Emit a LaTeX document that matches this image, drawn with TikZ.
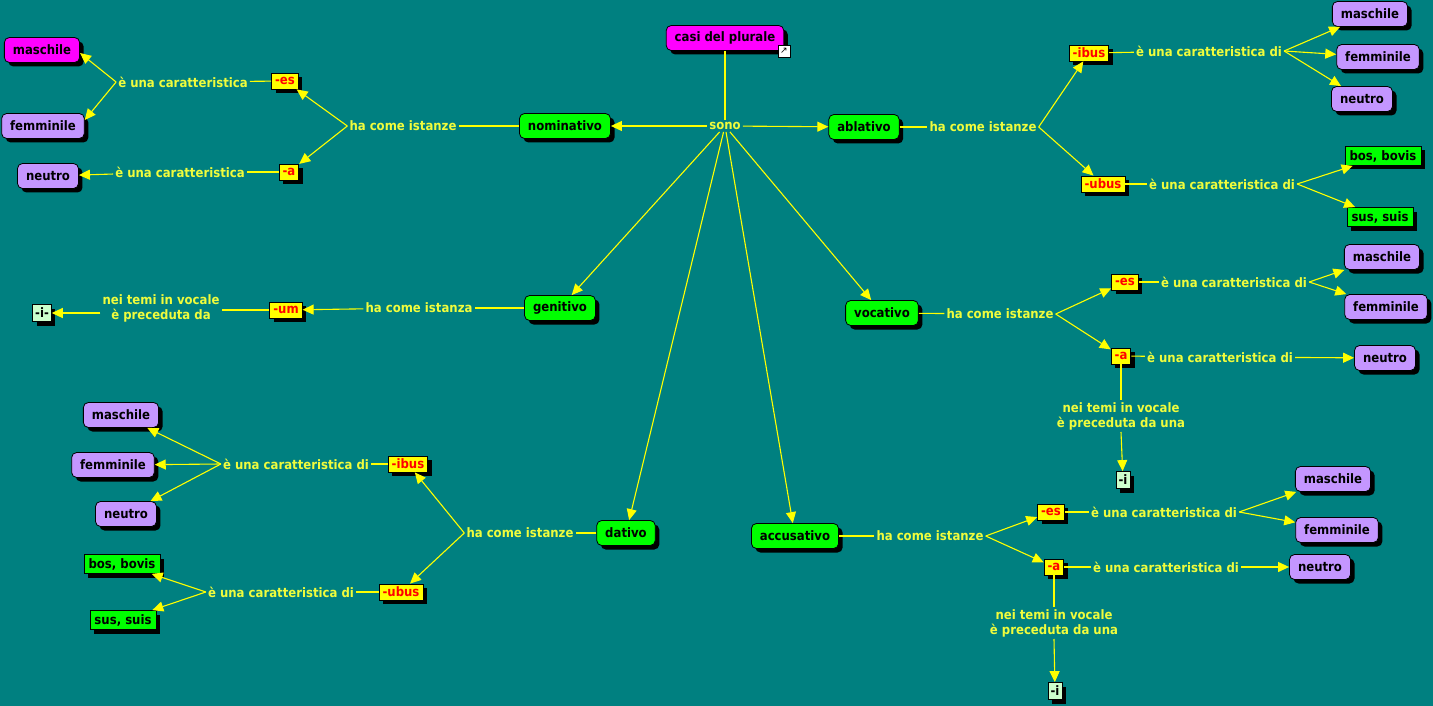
\documentclass[tikz,border=0pt]{standalone}
\usepackage{fontspec}
\setmainfont{DejaVu Sans Condensed}
\newfontfamily\symfont{DejaVu Sans}
\usetikzlibrary{shadows,arrows.meta}
\definecolor{bg}{RGB}{0,128,128}
\definecolor{cgreen}{RGB}{0,255,0}
\definecolor{cmag}{RGB}{255,0,255}
\definecolor{clav}{RGB}{196,150,255}
\definecolor{cyel}{RGB}{255,255,0}
\definecolor{cmint}{RGB}{204,255,204}
\definecolor{ltxt}{RGB}{240,252,60}
\definecolor{lnc}{RGB}{255,255,0}
\begin{document}
\begin{tikzpicture}[x=1pt,y=-1pt,
  font=\fontsize{13}{15}\selectfont\bfseries,
  base/.style={draw=black, line width=0.8pt, text=black,
    drop shadow={shadow xshift=4pt,shadow yshift=-4pt,fill=black,opacity=1}},
  concept/.style={base, rounded corners=5pt, minimum height=25pt, inner xsep=8.5pt, inner ysep=0pt},
  cgn/.style={concept, fill=cgreen},
  cmg/.style={concept, fill=cmag},
  clv/.style={concept, fill=clav},
  grect/.style={base, fill=cgreen, minimum height=19pt, inner xsep=4.5pt, inner ysep=0pt},
  suf/.style={base, fill=cyel, text=red, minimum height=16pt, inner xsep=3.5pt, inner ysep=0pt},
  mint/.style={base, fill=cmint, minimum height=17pt, inner xsep=2.5pt, inner ysep=0pt},
  lab/.style={text=ltxt, inner sep=2pt, align=center},
  lin/.style={draw=lnc, line width=1.1pt},
  arr/.style={draw=lnc, line width=1.1pt, -{Triangle[length=11pt,width=10pt,fill=lnc]}}
]
\fill[bg] (0,0) rectangle (1433,706);
\useasboundingbox (0,0) rectangle (1433,706);

% ---- centre ----
\node[cmg] (casi) at (725,38) {casi del plurale};
\node[draw=black, fill=white, line width=0.6pt, inner sep=0pt, minimum size=12pt,
      font=\symfont\fontsize{9}{9}\selectfont] (lnk) at (784,51) {↗};
\node[lab] (sono) at (725,126) {sono};
\node[cgn] (nom) at (565,126) {nominativo};
\node[cgn] (abl) at (864,127) {ablativo};
\node[cgn] (gen) at (560,308) {genitivo};
\node[cgn] (dat) at (626,533) {dativo};
\node[cgn] (acc) at (795,536) {accusativo};
\node[cgn] (voc) at (882,313) {vocativo};
\draw[lin] (casi) -- (sono);
\draw[arr] (sono) -- (nom);
\draw[arr] (sono) -- (abl);
\draw[arr] (sono) -- (gen);
\draw[arr] (sono) -- (dat);
\draw[arr] (sono) -- (acc);
\draw[arr] (sono) -- (voc);

% ---- nominativo ----
\node[lab] (nomh) at (403,126) {ha come istanze};
\node[suf] (nes) at (285,81) {-es};
\node[suf] (na) at (289,172) {-a};
\node[lab] (nc1) at (183,82) {è una caratteristica};
\node[lab] (nc2) at (180,172) {è una caratteristica};
\node[cmg] (nmas) at (42,50) {maschile};
\node[clv] (nfem) at (43,126) {femminile};
\node[clv] (nneu) at (48,176) {neutro};
\draw[lin] (nom) -- (nomh);
\draw[arr] (nomh.west) -- (nes);
\draw[arr] (nomh.west) -- (na);
\draw[lin] (nes) -- (nc1);
\draw[arr] (nc1.west) -- ([yshift=-3pt]nmas.east);
\draw[arr] (nc1.west) -- ([yshift=6pt]nfem.east);
\draw[lin] (na) -- (nc2);
\draw[arr] (nc2) -- (nneu);

% ---- genitivo ----
\node[lab] (genh) at (419,308) {ha come istanza};
\node[suf] (gum) at (286,310) {-um};
\node[lab] (gl) at (161,308) {nei temi in vocale\\è preceduta da};
\node[mint] (gi) at (42,313) {-i-};
\draw[lin] (gen) -- (genh);
\draw[arr] (genh) -- (gum);
\draw[lin] (gum.west) -- (gum.west -| gl.east);
\draw[arr] (gl.west |- gi) -- (gi);

% ---- dativo ----
\node[lab] (dath) at (520,533) {ha come istanze};
\node[suf] (dib) at (408,464) {-ibus};
\node[suf] (dub) at (401,592) {-ubus};
\node[lab] (dc1) at (296,464) {è una caratteristica di};
\node[lab] (dc2) at (281,592) {è una caratteristica di};
\node[clv] (dmas) at (121,415) {maschile};
\node[clv] (dfem) at (113,465) {femminile};
\node[clv] (dneu) at (126,514) {neutro};
\node[grect] (dbos) at (122,564) {bos, bovis};
\node[grect] (dsus) at (123,620) {sus, suis};
\draw[lin] (dat) -- (dath);
\draw[arr] (dath.west) -- (dib);
\draw[arr] (dath.west) -- (dub);
\draw[lin] (dib) -- (dc1);
\draw[arr] (dc1.west) -- (dmas);
\draw[arr] (dc1.west) -- (dfem);
\draw[arr] (dc1.west) -- (dneu);
\draw[lin] (dub) -- (dc2);
\draw[arr] (dc2.west) -- (dbos);
\draw[arr] (dc2.west) -- (dsus);

% ---- ablativo ----
\node[lab] (abh) at (983,127) {ha come istanze};
\node[suf] (aib) at (1089,53) {-ibus};
\node[suf] (aub) at (1103,184) {-ubus};
\node[lab] (ac1) at (1209,51) {è una caratteristica di};
\node[lab] (ac2) at (1222,184) {è una caratteristica di};
\node[clv] (amas) at (1370,14) {maschile};
\node[clv] (afem) at (1378,57) {femminile};
\node[clv] (aneu) at (1362,99) {neutro};
\node[grect] (abos) at (1383,156) {bos, bovis};
\node[grect] (asus) at (1380,217) {sus, suis};
\draw[lin] (abl) -- (abh);
\draw[arr] (abh.east) -- (aib);
\draw[arr] (abh.east) -- (aub);
\draw[lin] (aib) -- (ac1);
\draw[arr] (ac1.east) -- (amas);
\draw[arr] (ac1.east) -- (afem);
\draw[arr] (ac1.east) -- (aneu);
\draw[lin] (aub) -- (ac2);
\draw[arr] (ac2.east) -- (abos);
\draw[arr] (ac2.east) -- (asus);

% ---- vocativo ----
\node[lab] (voch) at (1000,314) {ha come istanze};
\node[suf] (ves) at (1125,282) {-es};
\node[suf] (va) at (1121,356) {-a};
\node[lab] (vc1) at (1234,282) {è una caratteristica di};
\node[lab] (vc2) at (1220,357) {è una caratteristica di};
\node[clv] (vmas) at (1382,257) {maschile};
\node[clv] (vfem) at (1386,307) {femminile};
\node[clv] (vneu) at (1385,358) {neutro};
\node[lab] (vl) at (1121,416) {nei temi in vocale\\è preceduta da una};
\node[mint] (vi) at (1123,480) {-i};
\draw[lin] (voc) -- (voch);
\draw[arr] (voch.east) -- (ves);
\draw[arr] (voch.east) -- (va);
\draw[lin] (ves) -- (vc1);
\draw[arr] (vc1.east) -- (vmas);
\draw[arr] (vc1.east) -- (vfem);
\draw[lin] (va) -- (vc2);
\draw[arr] (vc2) -- (vneu);
\draw[lin] (va) -- (va |- vl.north);
\draw[arr] (va |- vl.south) -- (vi);

% ---- accusativo ----
\node[lab] (acch) at (930,536) {ha come istanze};
\node[suf] (ces) at (1051,512) {-es};
\node[suf] (ca) at (1054,567) {-a};
\node[lab] (cc1) at (1164,512) {è una caratteristica di};
\node[lab] (cc2) at (1166,567) {è una caratteristica di};
\node[clv] (cmas) at (1333,479) {maschile};
\node[clv] (cfem) at (1337,530) {femminile};
\node[clv] (cneu) at (1320,567) {neutro};
\node[lab] (cvl) at (1054,623) {nei temi in vocale\\è preceduta da una};
\node[mint] (ci) at (1055,691) {-i};
\draw[lin] (acc) -- (acch);
\draw[arr] (acch.east) -- (ces);
\draw[arr] (acch.east) -- (ca);
\draw[lin] (ces) -- (cc1);
\draw[arr] (cc1.east) -- (cmas);
\draw[arr] (cc1.east) -- (cfem);
\draw[lin] (ca) -- (cc2);
\draw[arr] (cc2) -- (cneu);
\draw[lin] (ca) -- (ca |- cvl.north);
\draw[arr] (ca |- cvl.south) -- (ci);
\end{tikzpicture}
\end{document}
